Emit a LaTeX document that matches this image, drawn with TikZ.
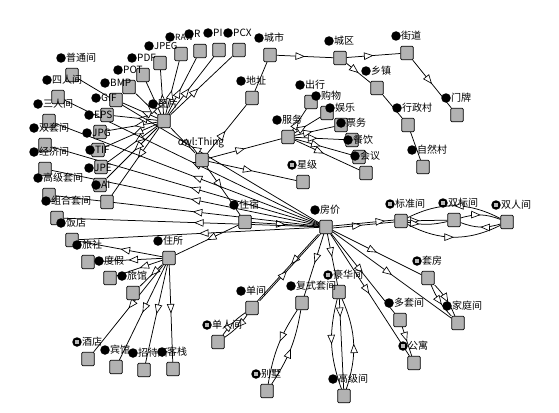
\documentclass[tikz,border=0pt]{standalone}
\usepackage{fontspec}
\setmainfont{Noto Sans CJK SC}
\usetikzlibrary{arrows.meta,decorations.markings}
\pgfdeclarelayer{bg}
\pgfdeclarelayer{labl}
\pgfdeclarelayer{dotl}
\pgfsetlayers{bg,main,labl,dotl}
\tikzset{
  sq/.style={draw=black, line width=0.75pt, fill=gray!60, minimum width=12.5pt, minimum height=13.5pt, inner sep=0pt, rounded corners=1.2pt},
  arr/.style={draw=black, line width=0.75pt, postaction={decorate, decoration={markings, mark=at position #1 with {\arrow{Triangle[fill=white,length=9.5pt,width=7.5pt,line width=0.65pt]}}}}},
  arr/.default=0.5,
  pl/.style={draw=black, line width=0.75pt},
  blob/.style={circle, fill=black, minimum size=9.5pt, inner sep=0pt},
  inner/.style={fill=gray!55, minimum size=3.5pt, inner sep=0pt},
  lab/.style={anchor=west, inner sep=0pt, font=\fontsize{10}{11}\selectfont},
}
\newcommand\mkcls[4]{%
  \node[sq] (#1) at (#2,#3) {};
  \begin{pgfonlayer}{labl}\node[lab] at (#2-6,#3-17) {#4};\end{pgfonlayer}
  \begin{pgfonlayer}{dotl}\node[blob] at (#2-11,#3-17) {};\end{pgfonlayer}}
\newcommand\mkind[4]{%
  \node[sq] (#1) at (#2,#3) {};
  \begin{pgfonlayer}{labl}\node[lab] at (#2-6,#3-17) {#4};\end{pgfonlayer}
  \begin{pgfonlayer}{dotl}\node[blob] at (#2-11,#3-17) {};\node[inner] at (#2-11,#3-17) {};\end{pgfonlayer}}
\begin{document}
\begin{tikzpicture}[x=1pt,y=-1pt]
\useasboundingbox (0,0) rectangle (559,412);
\begin{pgfonlayer}{bg}\fill[white] (0,0) rectangle (559,412);\end{pgfonlayer}
% image formats
\mkcls{pcx}{239}{50}{PCX}
\mkcls{pi}{219}{50}{PI}
\mkcls{r}{200}{51}{R}
\mkcls{raw}{181}{54}{\fontsize{8.5}{10}\selectfont RAW}
\mkcls{jpeg}{160}{63}{\fontsize{9.5}{10}\selectfont JPEG}
\mkcls{pdf}{143}{75}{PDF}
\mkcls{pot}{129}{87}{POT}
\mkcls{bmp}{116}{100}{BMP}
\mkcls{gif}{107}{115}{GIF}
\mkcls{eps}{100}{132}{EPS}
\mkcls{jpg}{98}{150}{JPG}
\mkcls{tif}{101}{167}{TIF}
\mkcls{jpe}{100}{185}{JPE}
\mkcls{ai}{107}{202}{AI}
% room types (left)
\mkcls{ptj}{72}{75}{普通间}
\mkcls{srjf}{58}{97}{四人间}
\mkcls{srjt}{49}{121}{三人间}
\mkcls{stj}{45}{145}{双套间}
\mkcls{jjj}{45}{169}{经济间}
\mkcls{gjtj}{49}{195}{高级套间}
\mkcls{zhtj}{57}{218}{组合套间}
\mkcls{fd}{72}{240}{饭店}
\mkcls{ls}{88}{262}{旅社}
\mkcls{dj}{110}{278}{度假}
\mkcls{lg}{133}{293}{旅馆}
\mkind{jd}{88}{359}{酒店}
\mkcls{bg}{116}{367}{宾馆}
\mkcls{zds}{144}{370}{招待所}
\mkcls{kz}{173}{369}{客栈}
% hubs
\mkcls{tp}{164}{121}{图片}
\node[sq] (ot) at (202,160) {};
\begin{pgfonlayer}{labl}\node[inner sep=0pt, font=\fontsize{10}{11}\selectfont] at (201,143) {owl:Thing};\end{pgfonlayer}
\mkcls{dz}{252}{98}{地址}
\mkcls{cs}{270}{55}{城市}
\mkcls{cq}{340}{58}{城区}
\mkcls{jdao}{407}{53}{街道}
\mkcls{xz}{377}{88}{乡镇}
\mkcls{mp}{457}{115}{门牌}
\mkcls{xzc}{408}{125}{行政村}
\mkcls{zrc}{423}{167}{自然村}
\mkcls{fw}{288}{137}{服务}
\mkcls{cx}{311}{102}{出行}
\mkcls{gw}{327}{113}{购物}
\mkcls{yl}{341}{125}{娱乐}
\mkcls{pw}{352}{140}{票务}
\mkcls{cy}{359}{157}{餐饮}
\mkcls{hy}{366}{173}{会议}
\mkind{xj}{303}{182}{星级}
\mkcls{zs}{245}{222}{住宿}
\mkcls{fj}{326}{227}{房价}
\mkcls{zsuo}{169}{258}{住所}
\mkind{bzj}{401}{221}{标准间}
\mkind{sbj}{454}{220}{双标间}
\mkind{srj}{507}{222}{双人间}
\mkind{tf}{428}{278}{套房}
\mkcls{jtj}{458}{323}{家庭间}
\mkcls{dtj}{400}{320}{多套间}
\mkind{gy}{414}{363}{公寓}
\mkind{hhj}{339}{292}{豪华间}
\mkcls{gjj}{344}{396}{高级间}
\mkcls{fstj}{302}{303}{复式套间}
\mkcls{dan}{252}{308}{单间}
\mkind{drj}{218}{342}{单人间}
\mkind{bs}{267}{391}{别墅}
\begin{pgfonlayer}{bg}
% 图片
\foreach \t in {pcx,pi,r,raw,jpeg,pdf,pot,bmp,gif,eps,jpg,tif,jpe,ai}{\draw[arr=0.45] (tp) -- (\t);}
\draw[arr=0.8] (tp) -- (ot);
% owl:Thing
\draw[arr=0.46] (ot) -- (dz);
\draw[arr=0.5] (ot) -- (fw);
\draw[arr=0.5] (ot) -- (xj);
\draw[arr=0.45] (ot) -- (zs);
% address chain
\draw[pl] (dz) -- (cs);
\draw[arr=0.5] (cs) -- (cq);
\draw[arr=0.5] (cq) -- (jdao);
\draw[arr=0.5] (cq) -- (xz);
\draw[arr=0.5] (jdao) -- (mp);
\draw[pl] (xz) -- (xzc);
\draw[pl] (xzc) -- (zrc);
% service
\foreach \t in {cx,gw,yl,pw,cy,hy}{\draw[arr=0.45] (fw) -- (\t);}
% lodging
\draw[arr=0.5] (zs) -- (fj);
\draw[arr=0.5] (zs) -- (zsuo);
\foreach \t in {fd,ls,dj,lg,jd,bg,zds,kz}{\draw[arr=0.5] (zsuo) -- (\t);}
% price to left room types
\draw[arr=0.53] (fj) -- (ptj);
\draw[arr=0.5] (fj) -- (srjf);
\foreach \t in {srjt,stj,jjj,gjtj}{\draw[arr=0.48] (fj) -- (\t);}
\draw[arr=0.49] (fj) -- (zhtj);
\draw[arr=0.5] (fj) -- (fd);
% price to right
\draw[arr=0.47] ([yshift=-1pt]fj.east) -- ([yshift=-1pt]bzj.west);
\draw[arr=0.85] ([yshift=1pt]fj.east) -- ([yshift=1pt]bzj.west);
\draw[arr=0.3] (bzj) -- (sbj);
\draw[arr=0.3] (bzj) to[bend right=12] (sbj);
\draw[arr=0.5] (srj) to[bend right=27] (bzj);
\draw[arr=0.5] (bzj) to[bend right=27] (srj);
\draw[arr=0.5] (sbj) to[bend left=19] (srj);
\draw[arr=0.5] (srj) to[bend left=19] (sbj);
\draw[arr=0.5] (fj) -- (tf);
\draw[arr=0.5] (fj) -- (jtj);
\draw[arr=0.6] (tf) to[bend left=10] (jtj);
\draw[arr=0.6] (tf) to[bend right=10] (jtj);
\draw[arr=0.5] (fj) -- (dtj);
\draw[arr=0.49] (fj) -- (gy);
\draw[arr=0.5] (dtj) -- (gy);
\draw[arr=0.45] (fj) -- (hhj);
\draw[arr=0.2] (hhj) -- (gjj);
\draw[arr=0.5] (hhj) to[bend right=17] (gjj);
\draw[arr=0.5] (gjj) to[bend right=21] (hhj);
\draw[arr=0.47] (fj) -- (fstj);
\draw[arr=0.45] ([xshift=-1pt]fj.south west) -- ([xshift=-1pt]dan.north east);
\draw[arr=0.45] ([xshift=1pt]dan.north east) -- ([xshift=1pt]fj.south west);
\draw[arr=0.5] (dan) to[bend left=10] (drj);
\draw[arr=0.5] (drj) to[bend left=10] (dan);
\draw[arr=0.45] (fstj) to[bend right=12] (bs);
\draw[arr=0.5] (bs) to[bend right=12] (fstj);
\end{pgfonlayer}
\end{tikzpicture}
\end{document}
